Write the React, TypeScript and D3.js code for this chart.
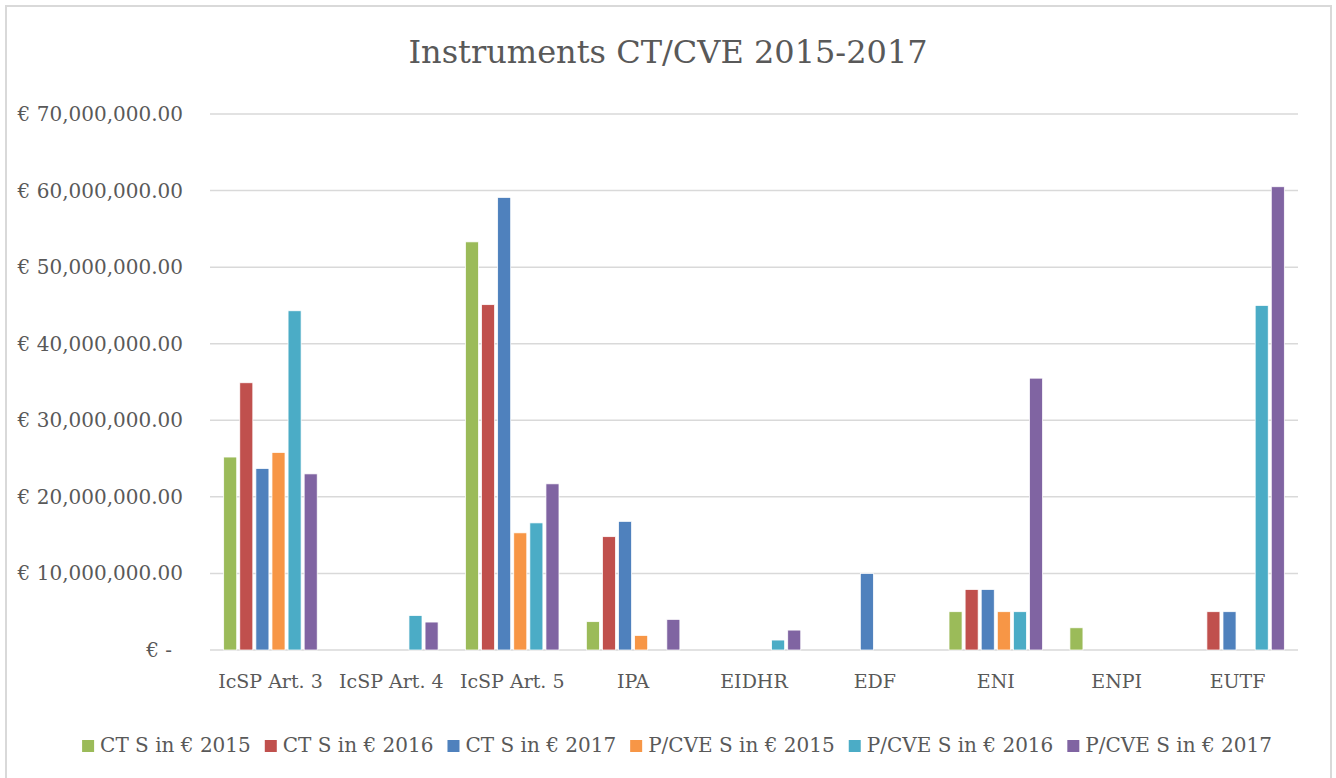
import { useEffect, useRef } from "react";
import * as d3 from "d3";

const categories = [
  "IcSP Art. 3",
  "IcSP Art. 4",
  "IcSP Art. 5",
  "IPA",
  "EIDHR",
  "EDF",
  "ENI",
  "ENPI",
  "EUTF",
];

const seriesNames = [
  "CT S in € 2015",
  "CT S in € 2016",
  "CT S in € 2017",
  "P/CVE S in € 2015",
  "P/CVE S in € 2016",
  "P/CVE S in € 2017",
];

const seriesColors = ["#9BBB59", "#C0504D", "#4F81BD", "#F79646", "#4BACC6", "#8064A2"];

// values per series, one per category (0 = no bar)
const ct2015 = [25200000, 0, 53300000, 3700000, 0, 0, 5000000, 2900000, 0];
const ct2016 = [34900000, 0, 45100000, 14800000, 0, 0, 7900000, 0, 5000000];
const ct2017 = [23700000, 0, 59100000, 16800000, 0, 10000000, 7900000, 0, 5000000];
const pcve2015 = [25800000, 0, 15300000, 1900000, 0, 0, 5000000, 0, 0];
const pcve2016 = [44300000, 4500000, 16600000, 0, 1300000, 0, 5000000, 0, 45000000];
const pcve2017 = [23000000, 3650000, 21700000, 4000000, 2600000, 0, 35500000, 0, 60500000];

const seriesValues = [ct2015, ct2016, ct2017, pcve2015, pcve2016, pcve2017];

const yTicks = [0, 10000000, 20000000, 30000000, 40000000, 50000000, 60000000, 70000000];

const width = 1336;
const height = 778;
const font = "'DejaVu Serif', serif";
const textColor = "#595959";

function App() {
  const svgRef = useRef<SVGSVGElement | null>(null);

  useEffect(() => {
    const svg = d3.select(svgRef.current).select<SVGGElement>("g.chart");
    svg.selectAll("*").remove();

    const left = 210;
    const right = 1298;
    const top = 114;
    const bottom = 650;

    const x0 = d3.scaleBand<string>().domain(categories).range([left, right]);
    const x1 = d3
      .scaleBand<number>()
      .domain(d3.range(seriesNames.length))
      .range([0, x0.bandwidth()])
      .paddingInner(0.19)
      .paddingOuter(0.85);
    const y = d3.scaleLinear().domain([0, 70000000]).range([bottom, top]);

    svg
      .append("text")
      .attr("x", 668)
      .attr("y", 63)
      .attr("text-anchor", "middle")
      .attr("font-family", font)
      .attr("font-size", 32)
      .attr("fill", textColor)
      .text("Instruments CT/CVE 2015-2017");

    // gridlines
    svg
      .append("g")
      .selectAll("line")
      .data(yTicks)
      .join("line")
      .attr("x1", left)
      .attr("x2", right)
      .attr("y1", (d) => y(d))
      .attr("y2", (d) => y(d))
      .attr("stroke", "#D9D9D9")
      .attr("stroke-width", 1.5);

    const fmt = d3.format(",.2f");
    svg
      .append("g")
      .selectAll("text")
      .data(yTicks)
      .join("text")
      .attr("x", 183)
      .attr("dx", (d) => (d === 0 ? -11 : 0))
      .attr("y", (d) => y(d))
      .attr("dy", "0.35em")
      .attr("text-anchor", "end")
      .attr("font-family", font)
      .attr("font-size", 20)
      .attr("fill", textColor)
      .text((d) => (d === 0 ? "€ -" : "€ " + fmt(d)));

    // bars
    const groups = svg
      .append("g")
      .selectAll("g")
      .data(categories)
      .join("g")
      .attr("transform", (d) => `translate(${x0(d)},0)`);

    groups
      .selectAll("rect")
      .data((_, ci) =>
        seriesValues.map((vals, si) => ({ si, v: vals[ci] })).filter((d) => d.v > 0)
      )
      .join("rect")
      .attr("x", (d) => x1(d.si) as number)
      .attr("width", x1.bandwidth())
      .attr("y", (d) => y(d.v))
      .attr("height", (d) => bottom - y(d.v))
      .attr("fill", (d) => seriesColors[d.si])
      .attr("stroke", "white")
      .attr("stroke-width", 0.75);

    // category labels
    svg
      .append("g")
      .selectAll("text")
      .data(categories)
      .join("text")
      .attr("x", (d) => (x0(d) as number) + x0.bandwidth() / 2)
      .attr("y", 688)
      .attr("text-anchor", "middle")
      .attr("font-family", font)
      .attr("font-size", 19)
      .attr("fill", textColor)
      .text((d) => d);

    // legend, laid out by measured text width
    const legend = svg.append("g");
    const items = legend
      .selectAll("g")
      .data(seriesNames)
      .join("g");
    items
      .append("rect")
      .attr("width", 12)
      .attr("height", 12)
      .attr("y", -12)
      .attr("fill", (_, i) => seriesColors[i]);
    items
      .append("text")
      .attr("x", 18)
      .attr("font-family", font)
      .attr("font-size", 20)
      .attr("fill", textColor)
      .text((d) => d);

    const widths: number[] = [];
    items.each(function () {
      widths.push((this as SVGGElement).getBBox().width);
    });
    const gap = 14;
    const total = d3.sum(widths) + gap * (widths.length - 1);
    let cx = 677 - total / 2;
    items.attr("transform", (_, i) => {
      const t = `translate(${cx},752)`;
      cx += widths[i] + gap;
      return t;
    });
  }, []);

  return (
    <svg
      ref={svgRef}
      width={width}
      height={height}
      style={{ display: "block", position: "absolute", left: 0, top: 0 }}
    >
      <rect x={0} y={0} width={width} height={height} fill="white" />
      <path d="M6,790 V6 H1331 V790" fill="none" stroke="#D9D9D9" strokeWidth={2} />
      <g className="chart"></g>
    </svg>
  );
}

export default App;
